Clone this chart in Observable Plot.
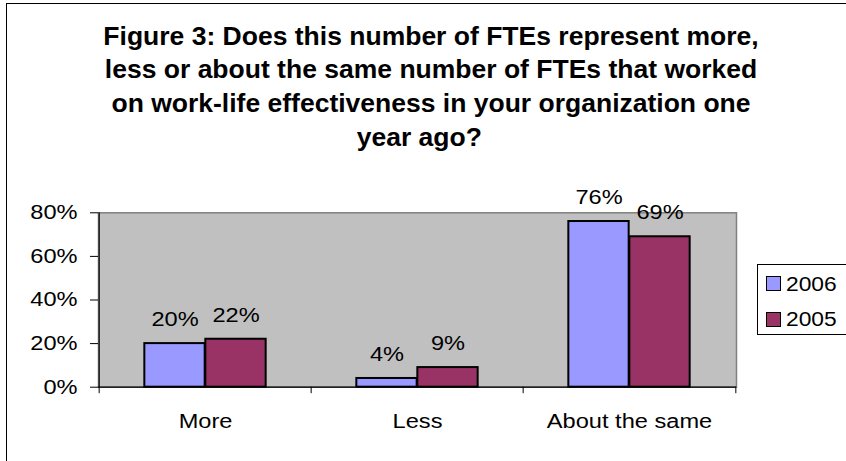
<!DOCTYPE html>
<html>
<head>
<meta charset="utf-8">
<script src="https://cdn.jsdelivr.net/npm/d3@7"></script>
<script src="https://cdn.jsdelivr.net/npm/@observablehq/plot@0.6"></script>
<style>
html, body { margin: 0; padding: 0; background: #fff; }
#wrap { position: relative; width: 846px; height: 461px; overflow: hidden; font-family: Arial, "Liberation Sans", sans-serif; color: #000; }
#border { position: absolute; left: 6px; top: 2.5px; width: 900px; height: 500px; border: 1.5px solid #000; box-sizing: border-box; }
#title { position: absolute; left: 0; top: 19.5px; width: 862px; text-align: center; font-weight: bold; font-size: 25px; line-height: 33.7px; transform: scaleX(1.06); transform-origin: 431px 0; }
#title .last { position: relative; left: -11px; }
#chart { position: absolute; left: 0; top: 0; }
#legend { position: absolute; left: 757px; top: 264px; width: 120px; height: 71px; border: 1px solid #000; background: #fff; box-sizing: border-box; }
#legend .sw { position: absolute; left: 8px; width: 15px; height: 15px; border: 1.5px solid #000; box-sizing: border-box; }
#legend .lab { position: absolute; left: 28px; font-size: 20px; line-height: 20px; transform: scaleX(1.14); transform-origin: 0 0; white-space: nowrap; }
</style>
</head>
<body>
<div id="wrap">
  <div id="border"></div>
  <div id="chart"></div>
  <div id="title"></div>
  <div id="legend"></div>
</div>
<script>
const titleLines = [
  "Figure 3: Does this number of FTEs represent more,",
  "less or about the same number of FTEs that worked",
  "on work-life effectiveness in your organization one",
  "year ago?"
];
const categories = ["More", "Less", "About the same"];
const series = ["2006", "2005"];
const values2006 = [0.20, 0.04, 0.76];
const values2005 = [0.22, 0.09, 0.69];
const yTicks = [0, 0.2, 0.4, 0.6, 0.8];
const seriesColors = ["#9999FF", "#993366"];

const data2006 = categories.map((c, i) => ({category: c, series: series[0], value: values2006[i]}));
const data2005 = categories.map((c, i) => ({category: c, series: series[1], value: values2005[i]}));
const pct = d3.format(".0%");

const W = 846, H = 461;
const mL = 98, mR = 110, mT = 212.3, mB = 74.3;
const half = (W - mL - mR) / categories.length / 2;
const barW = 61;
const frameH = H - mT - mB;

const plot = Plot.plot({
  width: W,
  height: H,
  marginLeft: mL, marginRight: mR, marginTop: mT, marginBottom: mB,
  style: {fontFamily: 'Arial, "Liberation Sans", sans-serif', fontSize: "20px", color: "black", background: "transparent", overflow: "visible"},
  x: {domain: categories, padding: 0, axis: null},
  y: {domain: [0, 0.8], axis: null},
  color: {domain: series, range: seriesColors},
  marks: [
    Plot.frame({fill: "#C0C0C0", stroke: "#808080", strokeWidth: 1.5}),
    Plot.barY(data2006, {x: "category", y: "value", fill: "series", stroke: "black", strokeWidth: 2, insetLeft: half - barW, insetRight: half}),
    Plot.barY(data2005, {x: "category", y: "value", fill: "series", stroke: "black", strokeWidth: 2, insetLeft: half, insetRight: half - barW}),
    Plot.ruleY([0], {stroke: "black", strokeWidth: 1.2}),
    Plot.ruleX([categories[0]], {dx: -half, stroke: "black", strokeWidth: 1.2}),
    Plot.ruleX(categories, {dx: -half, stroke: "black", insetTop: frameH, insetBottom: -6.5}),
    Plot.ruleX([categories[categories.length - 1]], {dx: half, stroke: "black", insetTop: frameH, insetBottom: -6.5}),
    Plot.axisY({ticks: yTicks, tickFormat: pct, tickSize: 8, tickPadding: 13, fontSize: 20, label: null}),
    Plot.axisX({tickSize: 0, tickPadding: 27, fontSize: 20, label: null}),
    Plot.text(data2006, {x: "category", y: "value", text: d => pct(d.value), dx: -barW / 2, dy: -17.5, lineAnchor: "bottom", fontSize: 20, fill: "black"}),
    Plot.text(data2005, {x: "category", y: "value", text: d => pct(d.value), dx: barW / 2, dy: -17.5, lineAnchor: "bottom", fontSize: 20, fill: "black"})
  ]
});
document.getElementById("chart").appendChild(plot);
plot.querySelectorAll("text").forEach(t => {
  const L = t.getComputedTextLength();
  if (L > 0) {
    t.setAttribute("textLength", (L * 1.18).toFixed(2));
    t.setAttribute("lengthAdjust", "spacingAndGlyphs");
  }
});

const title = document.getElementById("title");
titleLines.forEach((line, i) => {
  const s = document.createElement("span");
  s.textContent = line;
  if (i === titleLines.length - 1) s.className = "last";
  title.appendChild(s);
  if (i < titleLines.length - 1) title.appendChild(document.createElement("br"));
});

const legend = document.getElementById("legend");
const swTops = [11, 46.7];
const labTops = [8.8, 44.1];
series.forEach((s, i) => {
  const sw = document.createElement("div");
  sw.className = "sw";
  sw.style.top = swTops[i] + "px";
  sw.style.background = seriesColors[i];
  legend.appendChild(sw);
  const lab = document.createElement("div");
  lab.className = "lab";
  lab.style.top = labTops[i] + "px";
  lab.textContent = s;
  legend.appendChild(lab);
});
</script>
</body>
</html>
